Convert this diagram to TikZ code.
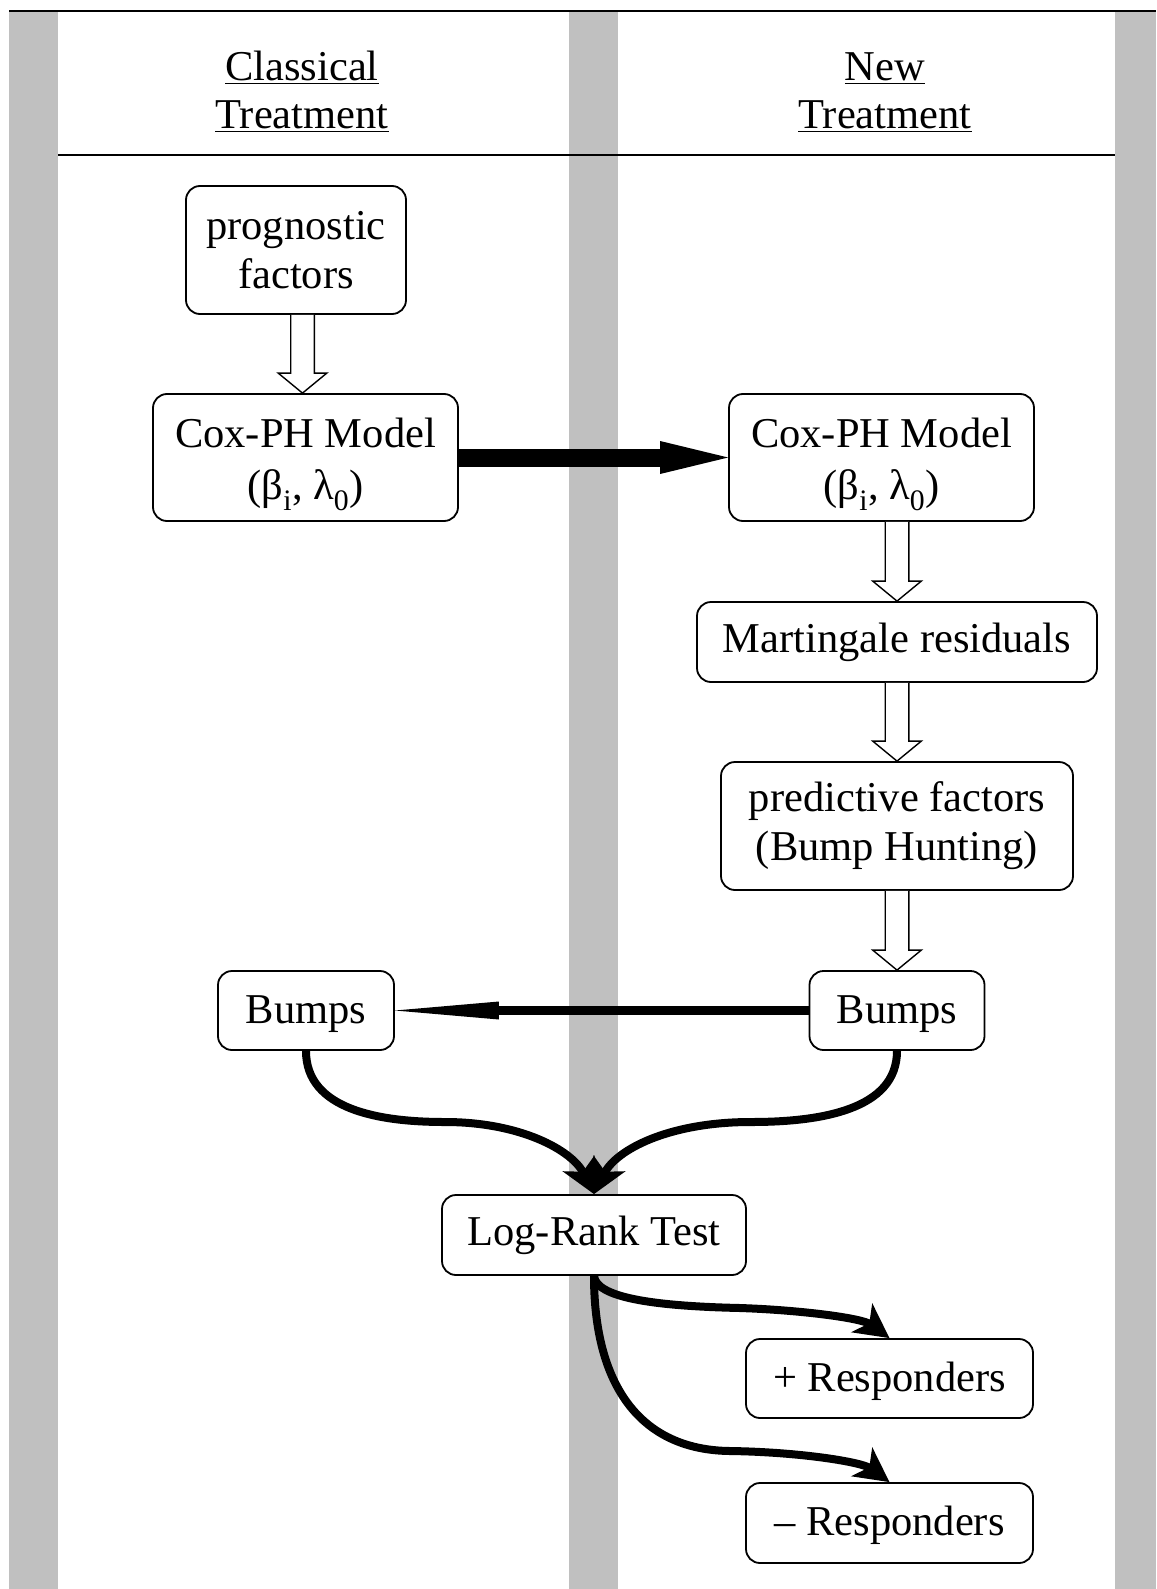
\documentclass[tikz,border=0pt]{standalone}
\usepackage{fontspec}
\setmainfont{Liberation Serif}
\usetikzlibrary{arrows.meta}
\definecolor{stripe}{RGB}{192,192,192}
\tikzset{
  box/.style={draw=black, line width=1.8pt, rounded corners=14pt, fill=white, align=center, inner sep=0pt},
  hollowst/.style={draw=black, fill=white, line width=1.4pt, line join=miter},
  bigarr/.style={line width=18pt, -{Triangle[length=68pt,width=33pt,line width=0pt]}},
  midarr/.style={line width=9.5pt, -{Triangle[length=104pt,width=18pt,line width=0pt]}},
  curvearr/.style={line width=8pt, -{Stealth[length=34pt,width=35pt,inset=9pt]}},
  hdr/.style={anchor=base, inner sep=0pt},
  ruleline/.style={line width=2pt},
}
\newcommand{\hollowarr}[2]{%
  \filldraw[hollowst] ([xshift=-11.8pt]#1) -- ([xshift=-11.8pt,yshift=20pt]#2)
    -- ([xshift=-24.3pt,yshift=20pt]#2) -- (#2) -- ([xshift=24.3pt,yshift=20pt]#2)
    -- ([xshift=11.8pt,yshift=20pt]#2) -- ([xshift=11.8pt]#1);}
\begin{document}
\begin{tikzpicture}[x=1pt,y=-1pt,font=\fontsize{42.5}{49}\selectfont]
\useasboundingbox (0,0) rectangle (1156,1589);
% stripes
\fill[stripe] (9,10.7) rectangle (58,1589);
\fill[stripe] (569,10.7) rectangle (618,1589);
\fill[stripe] (1115,10.7) rectangle (1156,1589);
% header lines
\draw[ruleline] (9,10.7) -- (1156,10.7);
\draw[ruleline] (58,154.6) -- (1115,154.6);
% headers
\node[hdr] (hc1) at (302,81) {\underline{Classical}};
\node[hdr] (hc2) at (302,129) {\underline{Treatment}};
\node[hdr] (hn1) at (885,81) {\underline{New}};
\node[hdr] (hn2) at (885,129) {\underline{Treatment}};
% nodes
\node[box, minimum width=220pt, minimum height=128pt] (prog) at (296,250) {prognostic\\factors};
\node[box, minimum width=305pt, minimum height=127pt] (coxl) at (305.5,457.5) {\rule{0pt}{43pt}Cox-PH Model\\[3pt](β\textsubscript{i}, λ\textsubscript{0})};
\node[box, minimum width=305pt, minimum height=127pt] (coxr) at (881.5,457.5) {\rule{0pt}{43pt}Cox-PH Model\\[3pt](β\textsubscript{i}, λ\textsubscript{0})};
\node[box, minimum width=400pt, minimum height=80pt] (mart) at (897,642) {Martingale residuals};
\node[box, minimum width=352pt, minimum height=128pt] (pred) at (897,826) {predictive factors\\(Bump Hunting)};
\node[box, minimum width=176pt, minimum height=79pt] (bumpl) at (306,1010.5) {\rule{0pt}{35pt}Bumps};
\node[box, minimum width=175pt, minimum height=79pt] (bumpr) at (897,1010.5) {\rule{0pt}{35pt}Bumps};
\node[box, minimum width=304pt, minimum height=80pt] (lr) at (594,1235) {Log-Rank Test};
\node[box, minimum width=287pt, minimum height=79pt] (plus) at (889.5,1378.5) {\rule{0pt}{35pt}+ Responders};
\node[box, minimum width=287pt, minimum height=80pt] (minus) at (889.5,1523) {\rule{0pt}{35pt}\textendash{} Responders};
% hollow arrows
\coordinate (h1a) at ([xshift=6.5pt]prog.south);
\coordinate (h1b) at ([xshift=-3pt]coxl.north);
\hollowarr{h1a}{h1b}
\coordinate (h2a) at ([xshift=15.5pt]coxr.south);
\hollowarr{h2a}{mart.north}
\hollowarr{mart.south}{pred.north}
\hollowarr{pred.south}{bumpr.north}
% straight arrows
\draw[bigarr] (coxl.east) -- (coxr.west);
\draw[midarr] (bumpr.west) -- (bumpl.east);
% curved arrows
\coordinate (wl) at (445,1122);
\coordinate (wr) at (751,1122);
\coordinate (wp) at (740,1308);
\coordinate (wm) at (730,1451);
\draw[curvearr] (bumpl.south) .. controls (306,1110) and (380,1122) .. (wl) .. controls (520,1122) and (572,1150) .. (lr.north);
\draw[curvearr] (bumpr.south) .. controls (897,1110) and (820,1122) .. (wr) .. controls (668,1122) and (616,1150) .. (lr.north);
\draw[curvearr] (lr.south) .. controls (596,1297) and (650,1306) .. (wp) .. controls (800,1310) and (862,1318) .. (plus.north);
\draw[curvearr] (lr.south) .. controls (594,1385) and (640,1450) .. (wm) .. controls (800,1452) and (862,1462) .. (minus.north);
\end{tikzpicture}
\end{document}
